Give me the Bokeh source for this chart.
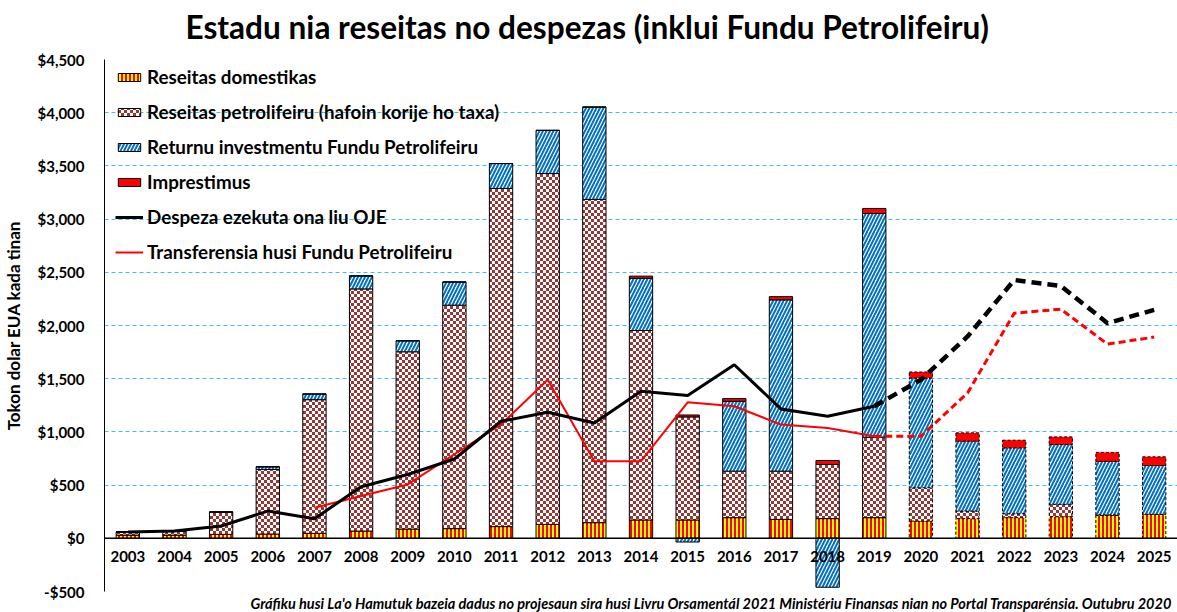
import zlib, struct, base64
from bokeh.plotting import figure
from bokeh.models import (ColumnDataSource, FactorRange, Range1d, FixedTicker,
                          NumeralTickFormatter, Legend, LegendItem, Title, Span,
                          ImageURLTexture)
from bokeh.core.properties import value
from bokeh.embed import file_html
from bokeh.resources import INLINE

# ---------------- data ----------------
years = [str(y) for y in range(2003, 2026)]
domestic = [30, 30, 37, 40, 47, 68, 87, 91, 110, 131, 147, 172, 172, 194, 178,
            185, 194, 162, 185, 194, 203, 216, 225]
petroleum = [30, 38, 210, 607, 1256, 2276, 1666, 2100, 3178, 3297, 3038, 1781,
             969, 437, 453, 509, 756, 313, 71, 37, 116, 4, 0]
fund_returns = [0, 0, 0, 25, 53, 122, 103, 218, 234, 406, 868, 491, -35, 657,
                1610, -460, 2103, 1031, 657, 619, 562, 503, 459]
loans = [0, 0, 0, 0, 0, 0, 0, 0, 0, 0, 0, 20, 18, 25, 30, 37, 47, 57, 78, 72,
         72, 84, 82]
spending = [59, 68, 116, 256, 184, 484, 600, 745, 1100, 1184, 1084, 1381, 1341,
            1631, 1216, 1147, 1241, 1490, 1897, 2428, 2372, 2022, 2147]
transfers = [float("nan")] * 4 + [288, 397, 506, 790, 1070, 1491, 725, 725, 1278,
                                  1241, 1069, 1037, 959, 959, 1366, 2116, 2153,
                                  1825, 1891]
first_projection = "2020"
y_ticks = list(range(-500, 4501, 500))

title_text = "Estadu nia reseitas no despezas (inklui Fundu Petrolifeiru)"
y_title = "Tokon dolar EUA kada tinan"
source_note = ("Gráfiku husi La'o Hamutuk bazeia dadus no projesaun sira husi "
               "Livru Orsamentál 2021 Ministériu Finansas nian no Portal "
               "Transparénsia. Outubru 2020")
series_labels = ["Reseitas domestikas",
                 "Reseitas petrolifeiru (hafoin korije ho taxa)",
                 "Returnu investmentu Fundu Petrolifeiru",
                 "Imprestimus",
                 "Despeza ezekuta ona liu OJE",
                 "Transferensia husi Fundu Petrolifeiru"]

# ---------------- stacking ----------------
n = len(years)
dom_b = [0] * n
dom_t = domestic[:]
pet_b = domestic[:]
pet_t = [d + p for d, p in zip(domestic, petroleum)]
ret_b = [pt if r >= 0 else 0 for pt, r in zip(pet_t, fund_returns)]
ret_t = [pt + r if r >= 0 else r for pt, r in zip(pet_t, fund_returns)]
pos_t = [pt + max(r, 0) for pt, r in zip(pet_t, fund_returns)]
loan_b = pos_t[:]
loan_t = [t + l for t, l in zip(pos_t, loans)]

data = dict(x=years, dom_b=dom_b, dom_t=dom_t, pet_b=pet_b, pet_t=pet_t,
            ret_b=ret_b, ret_t=ret_t, loan_b=loan_b, loan_t=loan_t,
            pat=["checker"] * n)
k = years.index(first_projection)
hist = ColumnDataSource({c: v[:k] for c, v in data.items()})
proj = ColumnDataSource({c: v[k:] for c, v in data.items()})


# small checkerboard texture as a PNG data URL
def checker_png(cell=3, dark=(0x95, 0x37, 0x35), light=(255, 255, 255)):
    size = cell * 2
    rows = []
    for yy in range(size):
        row = b"\x00"
        for xx in range(size):
            c = dark if ((xx // cell) + (yy // cell)) % 2 == 0 else light
            row += bytes(c)
        rows.append(row)
    raw = b"".join(rows)

    def chunk(t, d):
        return (struct.pack(">I", len(d)) + t + d +
                struct.pack(">I", zlib.crc32(t + d) & 0xFFFFFFFF))
    png = (b"\x89PNG\r\n\x1a\n" +
           chunk(b"IHDR", struct.pack(">IIBBBBB", size, size, 8, 2, 0, 0, 0)) +
           chunk(b"IDAT", zlib.compress(raw)) + chunk(b"IEND", b""))
    return "data:image/png;base64," + base64.b64encode(png).decode()


checker = ImageURLTexture(url=checker_png())

FONT = "Lato"

p = figure(width=1177, height=612, title=None,
           x_range=FactorRange(factors=years, range_padding=0),
           y_range=Range1d(-500, 4500),
           output_backend="svg", toolbar_location=None, x_axis_location=None,
           min_border_left=104, min_border_right=0, min_border_top=59,
           min_border_bottom=20, outline_line_color=None,
           background_fill_color="white", border_fill_color="white")

# title: a small spacer title next to the frame, the main title above it
p.add_layout(Title(text=" ", text_font=FONT, text_font_size="10px", standoff=0),
             "above")
p.add_layout(Title(text=title_text, text_font=FONT, text_font_size="31.6px",
                   text_font_style="bold", text_color="black", align="left",
                   offset=81, standoff=0, vertical_align="bottom"), "above")

# y axis
yax = p.yaxis[0]
yax.ticker = FixedTicker(ticks=y_ticks)
yax.formatter = NumeralTickFormatter(format="$0,0")
yax.major_label_text_font = FONT
yax.major_label_text_font_size = "15px"
yax.major_label_text_font_style = "bold"
yax.major_label_text_color = "black"
yax.major_tick_line_color = None
yax.minor_tick_line_color = None
yax.major_label_standoff = 14
yax.axis_line_color = "black"
yax.axis_line_width = 1
yax.axis_label = y_title
yax.axis_label_text_font = FONT
yax.axis_label_text_font_size = "17px"
yax.axis_label_text_font_style = "bold"
yax.axis_label_text_color = "black"
yax.axis_label_standoff = 10

p.ygrid.grid_line_color = "#3EBFF0"
p.ygrid.grid_line_dash = "4 3"
p.ygrid.grid_line_width = 1
p.xgrid.grid_line_color = None

W = 0.5
dom_style = dict(fill_color="#FFFF00", hatch_pattern="vertical_line",
                 hatch_color="#FF0000", hatch_scale=4, hatch_weight=2)
pet_style = dict(fill_color="#C89B9A", hatch_pattern="pat",
                 hatch_extra={"checker": checker}, hatch_color="#953735",
                 hatch_scale=6)
ret_style = dict(fill_color="white", hatch_pattern="right_diagonal_line",
                 hatch_color="#0070C0", hatch_scale=7, hatch_weight=2)
loan_style = dict(fill_color="#FF0000")

renderers = {}
for src, dash in ((hist, "solid"), (proj, "3 2")):
    line = dict(line_color="black", line_width=1, line_dash=dash)
    r1 = p.vbar(x="x", bottom="dom_b", top="dom_t", width=W, source=src, **dom_style, **line)
    r2 = p.vbar(x="x", bottom="pet_b", top="pet_t", width=W, source=src, **pet_style, **line)
    r3 = p.vbar(x="x", bottom="ret_b", top="ret_t", width=W, source=src, **ret_style, **line)
    r4 = p.vbar(x="x", bottom="loan_b", top="loan_t", width=W, source=src, **loan_style, **line)
    if src is hist:
        renderers["bars"] = [r1, r2, r3, r4]

p.add_layout(Span(location=0, dimension="width", line_color="black", line_width=1.5))

# lines
rt = p.line(years[:k], transfers[:k], line_color="#FF0000", line_width=2)
p.line(years[k - 1:], transfers[k - 1:], line_color="#FF0000", line_width=3,
       line_dash="7 4")
rs = p.line(years[:k], spending[:k], line_color="black", line_width=3)
p.line(years[k - 1:], spending[k - 1:], line_color="black", line_width=4.5,
       line_dash="10 6")

# x category labels next to zero line
p.text(x=years, y=[0] * n, text=years, y_offset=18, text_align="center",
       text_baseline="middle", text_font=value(FONT), text_font_size="15px",
       text_font_style="bold", text_color="black")

items = [LegendItem(label=lab, renderers=[r])
         for lab, r in zip(series_labels, renderers["bars"] + [rs, rt])]
legend = Legend(items=items, location=(11, 328), background_fill_alpha=0,
                border_line_color=None, padding=0, margin=0, spacing=12,
                glyph_width=28, glyph_height=10, label_height=21,
                label_standoff=4, label_text_font=FONT,
                label_text_font_size="18.8px", label_text_font_style="bold",
                label_text_color="black")
p.add_layout(legend)

foot = Title(text=source_note,
             align="left", text_font=FONT, text_font_size="14.5px",
             text_font_style="bold italic", text_color="black", standoff=2,
             offset=146)
p.add_layout(foot, "below")

open("out.html", "w").write(file_html(p, INLINE))
